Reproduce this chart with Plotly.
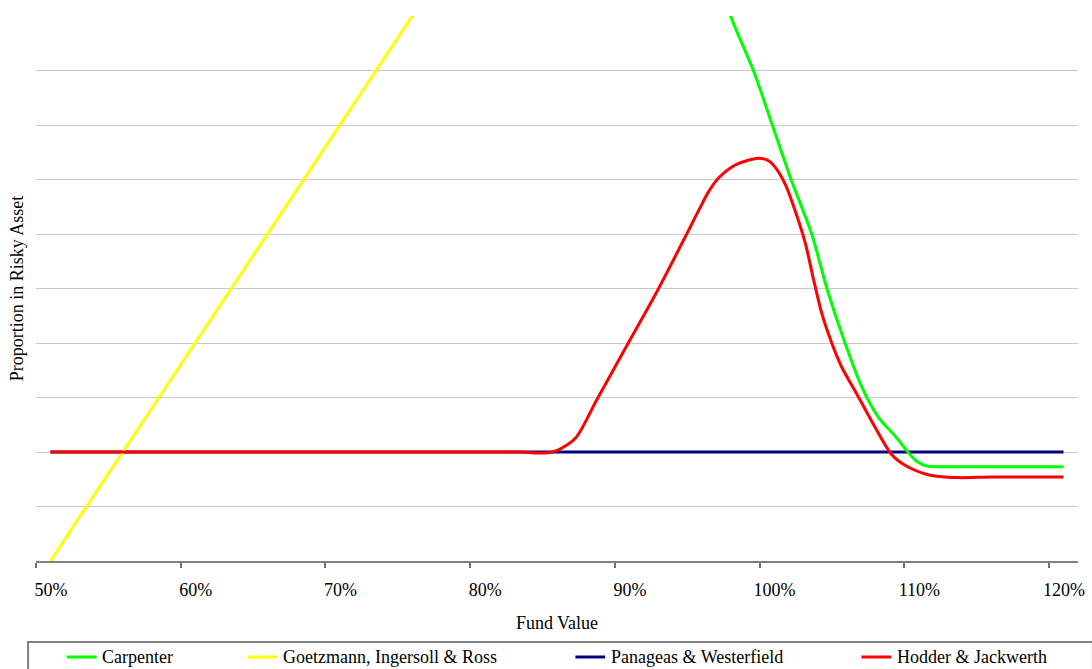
import plotly.graph_objects as go

# Fund value (% of initial) and proportion held in the risky asset
carpenter_x = [96.5, 97.0, 98.6, 99.9, 101.2, 102.6, 103.65, 104.9, 106.05, 107.2, 108.34, 109.25, 109.9, 110.6, 111.1, 115.0, 120.0]
carpenter_y = [5.25, 5.0, 4.49, 3.99, 3.49, 3.0, 2.50, 2.00, 1.60, 1.32, 1.15, 1.0, 0.91, 0.87, 0.865, 0.865, 0.865]

gir_x = [50.0, 60.0, 70.0, 80.0]
gir_y = [0.0, 2.0, 4.0, 6.0]

pw_x = [50.0, 120.0]
pw_y = [1.0, 1.0]

hj_x = [50.0, 80.0, 82.5, 83.6, 84.5, 85.1, 86.3, 87.75, 89.8, 91.9, 94.04, 94.84, 95.53, 96.21, 97.13, 98.05,
        98.96, 99.65, 100.22, 100.79, 101.36, 102.16, 102.73, 103.3, 103.99, 104.67, 105.82, 106.96, 108.1,
        108.8, 109.7, 110.4, 111.1, 112.7, 115.0, 120.0]
hj_y = [1.0, 1.0, 1.0, 0.99, 0.995, 1.02, 1.13, 1.48, 1.97, 2.47, 3.02, 3.23, 3.40, 3.52, 3.62, 3.67,
        3.695, 3.67, 3.587, 3.45, 3.25, 2.915, 2.58, 2.27, 1.997, 1.78, 1.507, 1.232, 0.98,
        0.90, 0.835, 0.80, 0.78, 0.765, 0.77, 0.77]

tick_pos = [49, 59, 69, 79, 89, 99, 109, 119]
tick_text = ["50%", "60%", "70%", "80%", "90%", "100%", "110%", "120%"]

series = [
    ("Carpenter", carpenter_x, carpenter_y, "#00ff00", "spline"),
    ("Goetzmann, Ingersoll & Ross", gir_x, gir_y, "#ffff00", "linear"),
    ("Panageas & Westerfield", pw_x, pw_y, "#000080", "linear"),
    ("Hodder & Jackwerth", hj_x, hj_y, "#ff0000", "spline"),
]

W, H = 1092, 669
ML, MR, MT, MB = 36, 7, 16, 108
PW, PH = W - ML - MR, H - MT - MB


def px_x(px):
    return (px - ML) / PW


def px_y(py):
    return (H - MB - py) / PH


FONT = "Liberation Serif"

fig = go.Figure()
# draw order: flat line first so the curves sit on top of it
for idx in [2, 1, 0, 3]:
    name, xs, ys, color, shape = series[idx]
    fig.add_trace(go.Scatter(
        x=xs, y=ys, name=name, mode="lines",
        line=dict(color=color, width=3, shape=shape, smoothing=0.8),
        showlegend=False, hoverinfo="skip",
    ))

# legend box and entries
shapes = [dict(type="rect", xref="paper", yref="paper",
               x0=px_x(28), x1=px_x(1100), y0=px_y(642), y1=px_y(690),
               line=dict(color="#808080", width=2), fillcolor="rgba(0,0,0,0)")]
annotations = []
legend_pos = [(67, 100), (249, 283), (579, 613), (867, 901)]
for (name, _, _, color, _), (lx, tx) in zip(series, legend_pos):
    shapes.append(dict(type="line", xref="paper", yref="paper",
                       x0=px_x(lx), x1=px_x(lx + 30), y0=px_y(657), y1=px_y(657),
                       line=dict(color=color, width=3)))
    annotations.append(dict(text=name, xref="paper", yref="paper",
                            x=px_x(tx), y=px_y(657), xanchor="left", yanchor="middle",
                            showarrow=False, font=dict(family=FONT, size=18, color="#000000")))

fig.update_layout(
    width=W, height=H,
    margin=dict(l=ML, r=MR, t=MT, b=MB),
    paper_bgcolor="#ffffff", plot_bgcolor="#ffffff",
    font=dict(family=FONT, size=18, color="#000000"),
    shapes=shapes, annotations=annotations,
    xaxis=dict(
        range=[49, 121], tickvals=tick_pos, ticktext=tick_text,
        ticks="outside", ticklen=5, tickwidth=2, tickcolor="#707070",
        ticklabelshift=15, ticklabelstandoff=6,
        showline=True, linecolor="#808080", linewidth=2,
        showgrid=False, zeroline=False,
        title=dict(text="Fund Value", standoff=18, font=dict(family=FONT, size=18)),
        tickfont=dict(family=FONT, size=18),
    ),
    yaxis=dict(
        range=[0, 5], dtick=0.5, showticklabels=False,
        showgrid=True, gridcolor="#c8c8c8", gridwidth=1,
        zeroline=False, showline=False, ticks="",
        title=dict(text="Proportion in Risky Asset", standoff=6, font=dict(family=FONT, size=18)),
    ),
)

fig.write_html("out.html")
